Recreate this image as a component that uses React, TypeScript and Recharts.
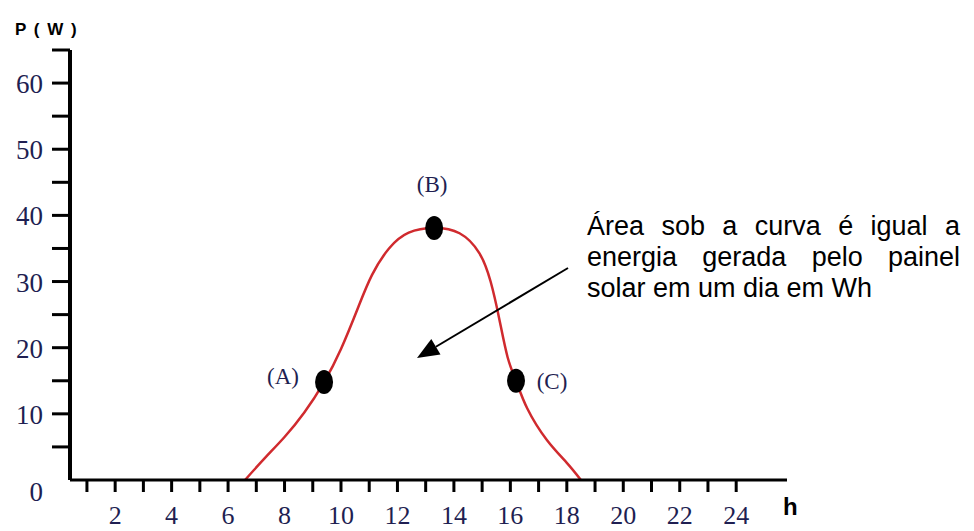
import React from 'react';
import { ComposedChart, Line, Scatter, XAxis, YAxis } from 'recharts';

// curve (hour of day -> power in W)
const hours = [6.6, 7.3, 8.0, 8.7, 9.4, 10.0, 10.6, 11.1, 11.7, 12.4, 13.3, 14.2, 14.9, 15.3, 15.6, 15.9, 16.2, 16.6, 17.3, 18.0, 18.5];
const power = [0, 3.3, 6.5, 10.2, 14.8, 19.8, 26.0, 31.0, 35.0, 37.4, 38.1, 37.3, 34.3, 30.0, 24.5, 18.6, 15.0, 10.8, 6.0, 2.6, 0];

const pointNames = ['(A)', '(B)', '(C)'];
const pointHours = [9.4, 13.3, 16.2];
const pointPower = [14.8, 38.1, 15.0];

const hourTicks = [1, 2, 3, 4, 5, 6, 7, 8, 9, 10, 11, 12, 13, 14, 15, 16, 17, 18, 19, 20, 21, 22, 23, 24];
const powerTicks = [0, 5, 10, 15, 20, 25, 30, 35, 40, 45, 50, 55, 60, 65];

const note = 'Área sob a curva é igual a energia gerada pelo painel solar em um dia em Wh';

const curve = hours.map((h, i) => ({ hour: h, power: power[i] }));
const points = pointNames.map((name, i) => ({ name, hour: pointHours[i], power: pointPower[i] }));

const NAVY = '#1f1f52';
const SERIF = '"Liberation Serif", "Times New Roman", serif';
const SANS = '"Liberation Sans", Arial, sans-serif';

// where each point's letter sits relative to the dot
const labelOffset: { [k: string]: [number, number] } = {
  '(A)': [-41, -5],
  '(B)': [-2, -43],
  '(C)': [36, 1],
};

const XTick = (props: any) => {
  const { x, y, payload } = props;
  const v = payload.value;
  return (
    <g>
      <line x1={x} x2={x} y1={y} y2={y + 12} stroke="#000" strokeWidth={3} />
      {v % 2 === 0 && (
        <text x={x} y={y + 44} textAnchor="middle" fontFamily={SERIF} fontSize={26} fill={NAVY}>
          {v}
        </text>
      )}
    </g>
  );
};

const YTick = (props: any) => {
  const { x, y, payload } = props;
  const v = payload.value;
  if (v === 0) {
    return (
      <text x={43} y={y + 21} textAnchor="end" fontFamily={SERIF} fontSize={27} fill={NAVY}>
        0
      </text>
    );
  }
  return (
    <g>
      <line x1={x - 18} x2={x} y1={y} y2={y} stroke="#000" strokeWidth={3} />
      {v % 10 === 0 && (
        <text x={x - 27} y={y + 10} textAnchor="end" fontFamily={SERIF} fontSize={27} fill={NAVY}>
          {v}
        </text>
      )}
    </g>
  );
};

const PointShape = (props: any) => {
  const { cx, cy, payload } = props;
  const [dx, dy] = labelOffset[payload.name] || [0, 0];
  return (
    <g>
      <ellipse cx={cx} cy={cy} rx={9} ry={12} fill="#000" />
      <text x={cx + dx} y={cy + dy + 7} textAnchor="middle" fontFamily={SERIF} fontSize={23} fill={NAVY}>
        {payload.name}
      </text>
    </g>
  );
};

// arrow from the note down into the area under the curve
const arrowFrom = [568, 268];
const arrowTo = [417, 358];

const Arrow = () => {
  const [x1, y1] = arrowFrom;
  const [x2, y2] = arrowTo;
  const len = Math.hypot(x2 - x1, y2 - y1);
  const ux = (x2 - x1) / len;
  const uy = (y2 - y1) / len;
  const headLen = 22;
  const headW = 9;
  const bx = x2 - ux * headLen;
  const by = y2 - uy * headLen;
  const head = `${x2},${y2} ${bx - uy * headW},${by + ux * headW} ${bx + uy * headW},${by - ux * headW}`;
  return (
    <g>
      <line x1={x1} y1={y1} x2={bx} y2={by} stroke="#000" strokeWidth={2} />
      <polygon points={head} fill="#000" />
    </g>
  );
};

export default function App() {
  return (
    <div style={{ position: 'absolute', left: 0, top: 0, width: 974, height: 531, background: '#fff' }}>
      <ComposedChart width={974} height={531} data={curve} margin={{ top: 50, right: 187, bottom: 0, left: 0 }}>
        <XAxis
          type="number"
          dataKey="hour"
          domain={[0.4, 25.8]}
          ticks={hourTicks}
          interval={0}
          height={51}
          tickSize={0}
          tickMargin={0}
          tickLine={false}
          tick={<XTick />}
          axisLine={{ stroke: '#000', strokeWidth: 3 }}
          allowDataOverflow
        />
        <YAxis
          type="number"
          dataKey="power"
          domain={[0, 65]}
          ticks={powerTicks}
          interval={0}
          width={70}
          tickSize={0}
          tickMargin={0}
          tickLine={false}
          tick={<YTick />}
          axisLine={{ stroke: '#000', strokeWidth: 4 }}
          allowDataOverflow
        />
        <Line
          data={curve}
          dataKey="power"
          type="natural"
          stroke="#d02a2e"
          strokeWidth={2.5}
          dot={false}
          activeDot={false}
          isAnimationActive={false}
        />
        <Scatter data={points} dataKey="power" shape={<PointShape />} isAnimationActive={false} />
      </ComposedChart>

      <svg width={974} height={531} style={{ position: 'absolute', left: 0, top: 0, pointerEvents: 'none' }}>
        <text x={15} y={35} fontFamily={SANS} fontWeight="bold" fontSize={17} letterSpacing={1.5} fill="#000">
          P ( W )
        </text>
        <text x={783} y={515} fontFamily={SANS} fontWeight="bold" fontSize={24} fill="#000">
          h
        </text>
        <Arrow />
      </svg>

      <div
        style={{
          position: 'absolute',
          left: 587,
          top: 211,
          width: 373,
          fontFamily: SANS,
          fontSize: 27,
          lineHeight: '31px',
          textAlign: 'justify',
          color: '#000',
        }}
      >
        {note}
      </div>
    </div>
  );
}
